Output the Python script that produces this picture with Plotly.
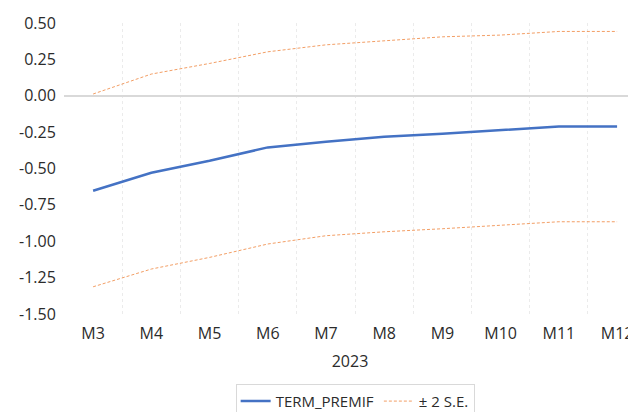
import plotly.graph_objects as go

categories = ["M3", "M4", "M5", "M6", "M7", "M8", "M9", "M10", "M11", "M12"]
term_premif = [-0.653, -0.529, -0.447, -0.355, -0.316, -0.282, -0.261, -0.236, -0.211, -0.211]
upper_band = [0.012, 0.149, 0.222, 0.302, 0.350, 0.378, 0.405, 0.417, 0.442, 0.442]
lower_band = [-1.313, -1.191, -1.111, -1.019, -0.962, -0.935, -0.914, -0.891, -0.866, -0.866]
y_ticks = [0.5, 0.25, 0.0, -0.25, -0.5, -0.75, -1.0, -1.25, -1.5]
y_ticktext = ["0.50", "0.25", "0.00", "-0.25", "-0.50", "-0.75", "-1.00", "-1.25", "-1.50"]
x_title = "2023"

idx = list(range(len(categories)))
font_family = "Open Sans"
text_color = "#2b2b2b"

fig = go.Figure()
fig.add_trace(go.Scatter(
    x=idx, y=term_premif, mode="lines", name="TERM_PREMIF",
    line=dict(color="#4472C4", width=2.5),
))
fig.add_trace(go.Scatter(
    x=idx, y=upper_band, mode="lines", name="± 2 S.E.", legendgroup="se",
    line=dict(color="rgba(237,125,49,0.75)", width=1, dash="3px,2px"),
))
fig.add_trace(go.Scatter(
    x=idx, y=lower_band, mode="lines", name="± 2 S.E.", legendgroup="se",
    showlegend=False,
    line=dict(color="rgba(237,125,49,0.75)", width=1, dash="3px,2px"),
))

# the page body has an 8px margin, so the figure is 8px smaller in each direction
fig.update_layout(
    width=628, height=404,
    margin=dict(l=56, r=0, t=15, b=98, autoexpand=False),
    paper_bgcolor="white", plot_bgcolor="white",
    font=dict(family=font_family, size=16, color=text_color),
    showlegend=True,
    legend=dict(
        orientation="h", x=0.509, xanchor="center", y=-0.24, yanchor="top",
        bordercolor="#d9d9d9", borderwidth=1, font=dict(size=15, color=text_color),
        itemwidth=30, tracegroupgap=0,
    ),
    xaxis=dict(
        tickmode="array", tickvals=idx, ticktext=categories, automargin=False,
        range=[-0.5, 9.325], showgrid=False, zeroline=False, showline=False,
        ticks="outside", ticklen=5, tickcolor="rgba(0,0,0,0)",
        tickfont=dict(size=16, color=text_color),
        title=dict(text=x_title, font=dict(size=16, color=text_color), standoff=12),
        minor=dict(
            tickmode="array", tickvals=[i + 0.5 for i in idx[:-1]],
            showgrid=True, gridcolor="#ebebeb", gridwidth=1, griddash="3px,3px", ticks="",
        ),
    ),
    yaxis=dict(
        range=[-1.5, 0.5], tickmode="array", tickvals=y_ticks, ticktext=y_ticktext,
        automargin=False,
        showgrid=False, zeroline=True, zerolinecolor="#d9d9d9", zerolinewidth=1.5,
        showline=False, ticks="outside", ticklen=4, tickcolor="rgba(0,0,0,0)",
        tickfont=dict(size=16, color=text_color),
    ),
)

fig.write_html("out.html")
